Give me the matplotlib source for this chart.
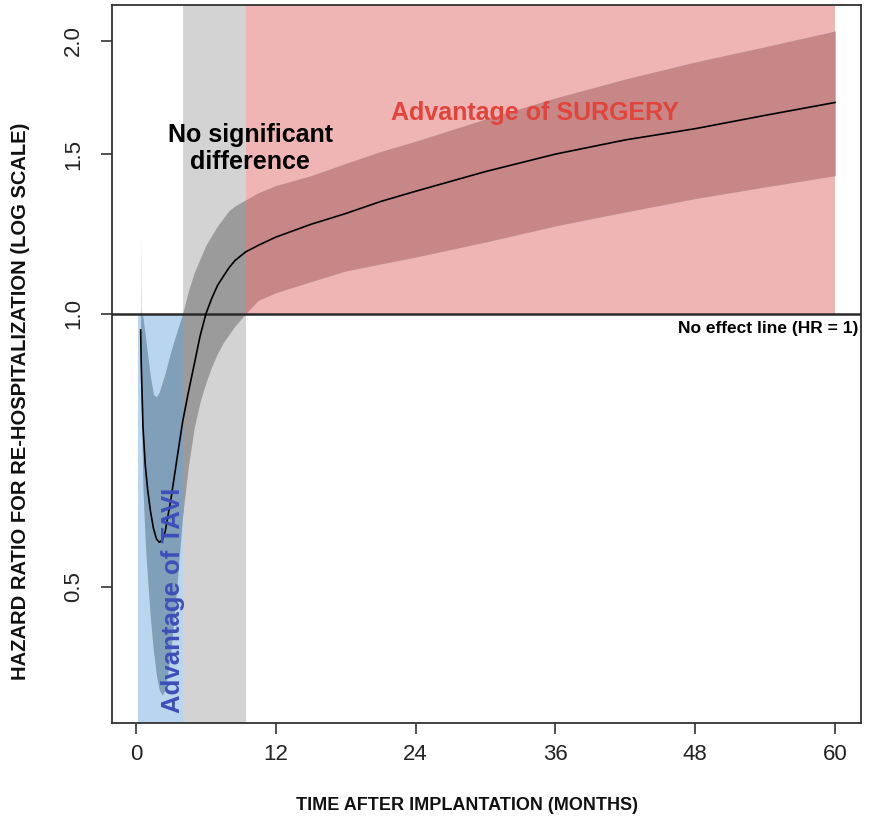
import numpy as np
import matplotlib
matplotlib.use("Agg")
import matplotlib.pyplot as plt
from matplotlib.patches import Rectangle
from matplotlib.ticker import NullLocator

plt.rcParams['font.family'] = ['Liberation Sans', 'DejaVu Sans']

# ---- data ----
months = [0.40, 0.45, 0.6, 0.8, 1.0, 1.25, 1.5, 1.75, 2.0, 2.25, 2.5, 3.0, 3.5, 4.0,
          4.5, 5.0, 5.5, 6.0, 6.5, 7.0, 7.5, 8.0, 8.5, 9.4, 10.5, 12, 15, 18, 21, 24,
          30, 36, 42, 48, 54, 60]
hazard_ratio = [0.96, 0.88, 0.75, 0.68, 0.64, 0.605, 0.58, 0.565, 0.56, 0.563, 0.575,
                0.625, 0.69, 0.76, 0.82, 0.88, 0.945, 1.0, 1.04, 1.075, 1.10, 1.125,
                1.145, 1.17, 1.19, 1.215, 1.255, 1.29, 1.33, 1.365, 1.435, 1.50,
                1.555, 1.60, 1.655, 1.71]
ci_upper = [1.22, 1.01, 0.99, 0.945, 0.90, 0.85, 0.815, 0.81, 0.82, 0.84, 0.86, 0.91,
            0.955, 1.0, 1.06, 1.11, 1.15, 1.19, 1.22, 1.25, 1.275, 1.30, 1.315, 1.335,
            1.36, 1.385, 1.42, 1.465, 1.51, 1.55, 1.64, 1.73, 1.815, 1.895, 1.97, 2.05]
ci_lower = [0.93, 0.80, 0.64, 0.56, 0.51, 0.46, 0.425, 0.40, 0.385, 0.38, 0.385, 0.425,
            0.50, 0.60, 0.68, 0.75, 0.80, 0.84, 0.875, 0.905, 0.93, 0.95, 0.97, 1.0,
            1.035, 1.055, 1.085, 1.115, 1.135, 1.155, 1.20, 1.25, 1.295, 1.34, 1.38, 1.42]

tavi_start = 0.17     # start of "Advantage of TAVI" zone (months)
tavi_end = 4.0        # upper CI crosses HR = 1
nosig_end = 9.4       # lower CI crosses HR = 1
surgery_end = 60.0

x_ticks = [0, 12, 24, 36, 48, 60]
y_ticks = [0.5, 1.0, 1.5, 2.0]
y_tick_labels = ["0.5", "1.0", "1.5", "2.0"]

# ---- figure ----
W, H = 870, 823
fig = plt.figure(figsize=(W / 100, H / 100), dpi=100)
ax = fig.add_axes([112 / W, 1 - 723 / H, (861 - 112) / W, (723 - 5) / H])
ax.set_yscale('log')
ax.set_xlim(-2.06, 62.23)
ax.set_ylim(0.354, 2.19)
y0, y1 = ax.get_ylim()

col_blue, col_grey, col_pink = '#bad5ee', '#d3d3d3', '#efb4b4'
band_white, band_blue, band_grey, band_pink = '#c6c6c6', '#809fb8', '#9b9b9b', '#c88787'

# region shading
ax.add_patch(Rectangle((tavi_start, y0), tavi_end - tavi_start, 1 - y0,
                       facecolor=col_blue, edgecolor='none', zorder=1))
ax.add_patch(Rectangle((tavi_end, y0), nosig_end - tavi_end, y1 - y0,
                       facecolor=col_grey, edgecolor='none', zorder=1))
ax.add_patch(Rectangle((nosig_end, 1), surgery_end - nosig_end, y1 - 1,
                       facecolor=col_pink, edgecolor='none', zorder=1))

# confidence band, coloured per region
t = np.array(months)
lo = np.array(ci_lower)
up = np.array(ci_upper)
ax.fill_between(t, lo, up, color=band_white, linewidth=0, zorder=2)
clips = [
    ((tavi_start - 1, y0), tavi_end - tavi_start + 1, 1 - y0, band_blue),
    ((tavi_end, y0), nosig_end - tavi_end, y1 - y0, band_grey),
    ((nosig_end, 1), surgery_end - nosig_end + 1, y1 - 1, band_pink),
]
for xy, w, h, c in clips:
    poly = ax.fill_between(t, lo, up, color=c, linewidth=0, zorder=2.1)
    rect = Rectangle(xy, w, h, transform=ax.transData)
    poly.set_clip_path(rect)

# no effect line
ax.axhline(1.0, color='#2a2a2a', linewidth=1.8, zorder=3)

# hazard ratio curve
ax.plot(t, hazard_ratio, color='black', linewidth=1.2, zorder=4)

# texts
ax.text(9.8, 1.52, "No significant\ndifference", ha='center', va='center',
        fontsize=18, fontweight='bold', color='black', linespacing=1.15, zorder=5)
ax.text(34.25, 1.666, "Advantage of SURGERY", ha='center', va='center',
        fontsize=18, fontweight='bold', color='#e0443a', zorder=5)
ax.text(3.2, 0.483, "Advantage of TAVI", ha='center', va='center', rotation=90,
        fontsize=18.5, fontweight='bold', color='#3d4fb8', zorder=5)
ax.text(61.97, 0.963, "No effect line (HR = 1)", ha='right', va='center',
        fontsize=12.5, fontweight='bold', color='black', zorder=5)

# axes styling
for s in ax.spines.values():
    s.set_color('#333333')
    s.set_linewidth(1.3)
ax.set_xticks(x_ticks)
ax.set_xticklabels([str(v) for v in x_ticks])
ax.set_yticks(y_ticks)
ax.set_yticklabels(y_tick_labels)
ax.yaxis.set_minor_locator(NullLocator())
ax.tick_params(axis='both', direction='out', length=8, width=1.2, colors='#333333',
               labelcolor='#222222', labelsize=16)
ax.tick_params(axis='x', pad=7)
ax.tick_params(axis='y', pad=12)
for lab in ax.get_yticklabels():
    lab.set_rotation(90)
    lab.set_va('center')

fig.text(467 / W, 1 - 805 / H, "TIME AFTER IMPLANTATION (MONTHS)", ha='center', va='center',
         fontsize=13, fontweight='bold', color='#111111')
fig.text(21 / W, 1 - 401 / H, "HAZARD RATIO FOR RE-HOSPITALIZATION (LOG SCALE)",
         ha='center', va='center', rotation=90, fontsize=14.5, fontweight='bold',
         color='#111111')

fig.savefig("out.png", dpi=100)
